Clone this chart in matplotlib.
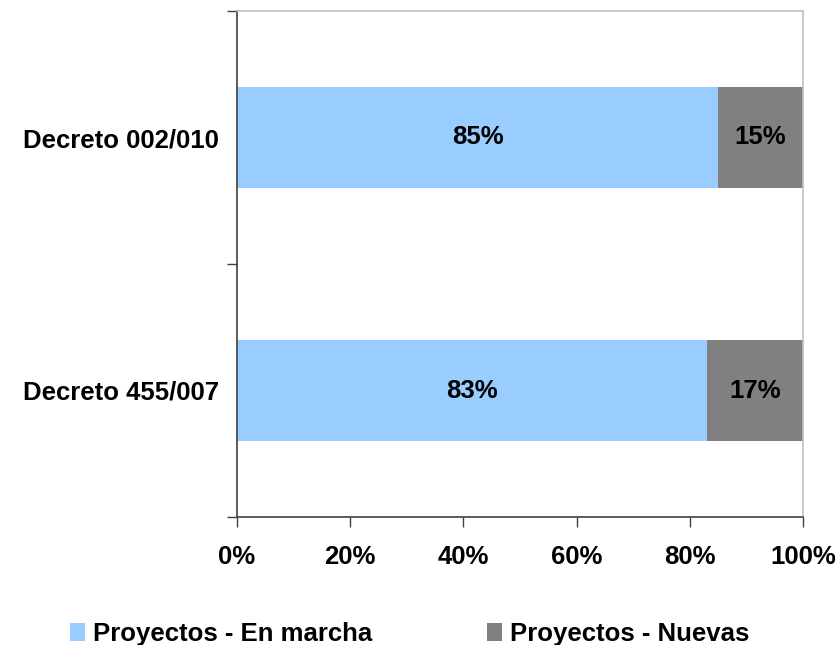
import matplotlib.pyplot as plt
from matplotlib.patches import Patch

plt.rcParams['font.family'] = ['Liberation Sans', 'DejaVu Sans']
plt.rcParams['font.weight'] = 'bold'

categories = ['Decreto 455/007', 'Decreto 002/010']
en_marcha = [83, 85]
nuevas = [17, 15]
series_names = ['Proyectos - En marcha', 'Proyectos - Nuevas']
colors = ['#99CCFF', '#808080']

fs = 18.5

fig = plt.figure(figsize=(8.4, 6.45), dpi=100)
ax = fig.add_axes([237 / 840, 1 - 517 / 645, 566 / 840, 506 / 645])

pos = list(range(len(categories)))
ax.barh(pos, en_marcha, height=0.4, color=colors[0], linewidth=0)
ax.barh(pos, nuevas, left=en_marcha, height=0.4, color=colors[1], linewidth=0)

for p, a, b in zip(pos, en_marcha, nuevas):
    ax.text(a / 2, p, '%d%%' % a, ha='center', va='center', fontsize=fs, fontweight='bold')
    ax.text(a + b / 2, p, '%d%%' % b, ha='center', va='center', fontsize=fs, fontweight='bold')

ax.set_xlim(0, 100)
ax.set_ylim(-0.5, len(categories) - 0.5)
ax.set_xticks(range(0, 101, 20))
ax.set_xticklabels(['%d%%' % v for v in range(0, 101, 20)], fontsize=fs, fontweight='bold')
ax.tick_params(axis='x', length=7, width=1, color='#404040', pad=13, direction='out')

ax.set_yticks([p - 0.5 for p in pos] + [len(categories) - 0.5])
ax.set_yticklabels([])
ax.set_yticks(pos, minor=True)
ax.set_yticklabels(categories, minor=True, fontsize=fs, fontweight='bold')
ax.tick_params(axis='y', which='major', length=7, width=1, color='#404040', direction='out')
ax.tick_params(axis='y', which='minor', length=0, pad=13)

for s in ['left', 'bottom']:
    ax.spines[s].set_color('#404040')
    ax.spines[s].set_linewidth(1.2)
for s in ['top', 'right']:
    ax.spines[s].set_color('#C0C0C0')
    ax.spines[s].set_linewidth(1.2)

handles = [Patch(facecolor=c, edgecolor='none', label=n) for c, n in zip(colors, series_names)]
fig.legend(handles=handles, loc='center left', bbox_to_anchor=(70 / 840, 1 - 634 / 645),
           ncol=2, frameon=False, fontsize=fs, handlelength=0.6, handleheight=0.65,
           handletextpad=0.3, columnspacing=4.45, borderpad=0, borderaxespad=0)

fig.savefig('out.png')
